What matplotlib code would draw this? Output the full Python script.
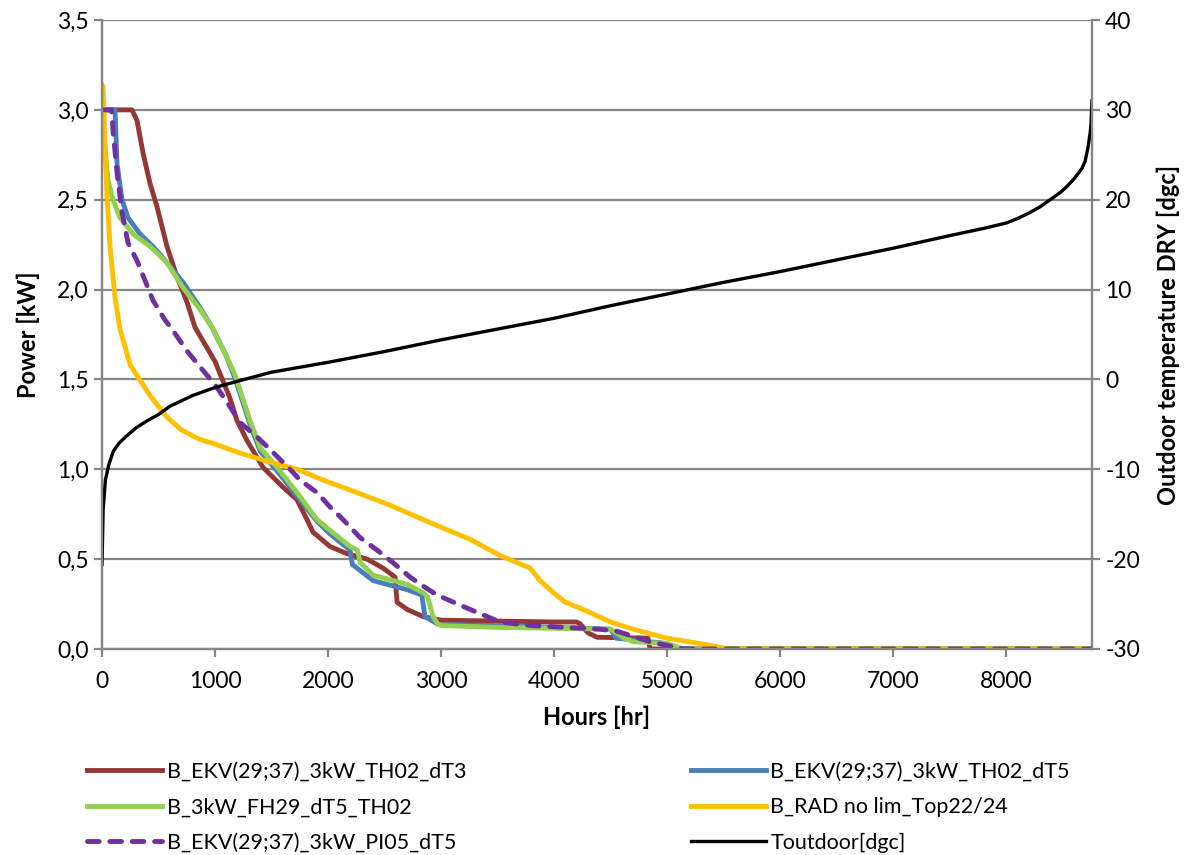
import numpy as np
import matplotlib
matplotlib.use("Agg")
import matplotlib.pyplot as plt
from matplotlib.ticker import FuncFormatter

plt.rcParams['font.family'] = ['Lato', 'DejaVu Sans']
plt.rcParams['axes.unicode_minus'] = False

# ---- data ----
red_h = [0, 265, 310, 363, 425, 487, 575, 664, 752, 823, 1000, 1130, 1195, 1283, 1425, 1602, 1726,
         1814, 1867, 2018, 2168, 2345, 2487, 2593, 2611, 2700, 2841, 3000, 3500, 4000, 4200, 4230,
         4300, 4380, 4830, 4850, 8760]
red_p = [3.0, 3.0, 2.94, 2.76, 2.59, 2.46, 2.24, 2.07, 1.93, 1.79, 1.60, 1.40, 1.27, 1.16, 1.01, 0.90, 0.83,
         0.72, 0.65, 0.57, 0.53, 0.50, 0.45, 0.40, 0.26, 0.22, 0.18, 0.16, 0.155, 0.15, 0.15, 0.14,
         0.09, 0.065, 0.06, 0.0, 0.0]

blue_h = [0, 115, 133, 177, 230, 336, 451, 575, 717, 867, 973, 1100, 1180, 1310, 1400, 1550, 1726,
          1903, 2018, 2195, 2215, 2400, 2700, 2830, 2858, 2965, 3000, 3500, 4000, 4500, 4550, 4700,
          5000, 5100, 8760]
blue_p = [3.0, 3.0, 2.70, 2.50, 2.40, 2.31, 2.24, 2.15, 2.04, 1.90, 1.79, 1.63, 1.50, 1.25, 1.10, 0.99, 0.85,
          0.71, 0.64, 0.55, 0.47, 0.38, 0.33, 0.30, 0.18, 0.14, 0.135, 0.13, 0.12, 0.11, 0.06, 0.05,
          0.03, 0.0, 0.0]

green_h = [0, 27, 53, 97, 159, 274, 425, 575, 717, 867, 973, 1100, 1180, 1310, 1400, 1550, 1726,
           1903, 2018, 2195, 2260, 2285, 2400, 2700, 2850, 2880, 2930, 2970, 3000, 3500, 4000, 4500,
           4620, 4700, 5000, 5150, 8760]
green_p = [3.0, 2.79, 2.61, 2.50, 2.40, 2.31, 2.24, 2.15, 2.01, 1.89, 1.79, 1.63, 1.52, 1.27, 1.12, 1.01, 0.87,
           0.72, 0.66, 0.57, 0.55, 0.48, 0.41, 0.36, 0.31, 0.29, 0.18, 0.14, 0.13, 0.12, 0.115, 0.11,
           0.06, 0.04, 0.03, 0.0, 0.0]

yellow_h = [0, 9, 27, 44, 71, 115, 159, 250, 425, 575, 700, 850, 1000, 1221, 1487, 1726, 1956, 2257, 2549,
            2841, 2991, 3257, 3522, 3788, 3876, 4000, 4100, 4257, 4500, 4700, 5000, 5292, 5500, 5600, 8760]
yellow_p = [3.14, 3.13, 2.79, 2.52, 2.24, 1.96, 1.78, 1.58, 1.41, 1.29, 1.22, 1.17, 1.14, 1.09, 1.04, 1.00,
            0.94, 0.87, 0.80, 0.72, 0.68, 0.61, 0.52, 0.45, 0.38, 0.31, 0.26, 0.22, 0.15, 0.11, 0.06,
            0.03, 0.005, 0.0, 0.0]

purple_h = [0, 85, 97, 133, 177, 230, 310, 381, 451, 558, 619, 750, 867, 1000, 1100, 1221, 1372, 1487,
            1664, 1752, 1903, 2018, 2133, 2283, 2434, 2575, 2726, 2841, 2965, 3257, 3522, 3800, 4100,
            4400, 4550, 4700, 4850, 5000, 5150, 8760]
purple_p = [3.0, 3.0, 2.89, 2.65, 2.43, 2.26, 2.16, 2.05, 1.94, 1.83, 1.78, 1.66, 1.57, 1.47, 1.38, 1.26,
            1.18, 1.11, 1.00, 0.94, 0.87, 0.79, 0.72, 0.62, 0.55, 0.48, 0.40, 0.35, 0.30, 0.22, 0.15,
            0.13, 0.12, 0.11, 0.10, 0.07, 0.04, 0.02, 0.0, 0.0]

tout_h = [0, 10, 30, 60, 100, 150, 200, 300, 400, 500, 600, 800, 1000, 1200, 1500, 2000, 2500, 3000,
          3500, 4000, 4500, 5000, 5500, 6000, 6500, 7000, 7500, 7800, 8000, 8100, 8200, 8300, 8390,
          8480, 8540, 8600, 8673, 8700, 8726, 8745, 8752, 8760]
tout_t = [-20.6, -14.5, -11.2, -9.5, -8.0, -7.1, -6.5, -5.4, -4.6, -3.9, -3.0, -1.8, -0.9, -0.2, 0.8,
          1.9, 3.1, 4.4, 5.6, 6.8, 8.2, 9.5, 10.8, 12.0, 13.3, 14.6, 16.0, 16.8, 17.4, 17.9, 18.5, 19.2,
          20.0, 20.8, 21.5, 22.3, 23.5, 24.3, 25.9, 27.5, 28.5, 31.0]

labels = ["B_EKV(29;37)_3kW_TH02_dT3", "B_EKV(29;37)_3kW_TH02_dT5", "B_3kW_FH29_dT5_TH02",
          "B_RAD no lim_Top22/24", "B_EKV(29;37)_3kW_PI05_dT5", "Toutdoor[dgc]"]

grey = '#868686'

fig = plt.figure(figsize=(11.93, 8.55), dpi=100)
ax = fig.add_subplot(111)
fig.subplots_adjust(left=0.0855, right=0.9153, top=0.9766, bottom=0.241)

lw = 3.5
l1, = ax.plot(red_h, red_p, color='#953735', lw=lw, label=labels[0])
l2, = ax.plot(blue_h, blue_p, color='#4A7EBB', lw=lw, label=labels[1])
l3, = ax.plot(green_h, green_p, color='#92D050', lw=lw, label=labels[2])
l4, = ax.plot(yellow_h, yellow_p, color='#FFC000', lw=lw, label=labels[3])
l5, = ax.plot(purple_h, purple_p, color='#7030A0', lw=lw, label=labels[4],
              dashes=(2.4, 2.2), dash_capstyle='round')

ax2 = ax.twinx()
l6, = ax2.plot(tout_h, tout_t, color='black', lw=2.4, label=labels[5])

ax.set_xlim(0, 8760)
ax.set_ylim(0, 3.5)
ax2.set_ylim(-30, 40)
ax.set_xticks(np.arange(0, 8001, 1000))
ax.set_yticks(np.arange(0, 3.51, 0.5))
ax2.set_yticks(np.arange(-30, 41, 10))
ax.yaxis.set_major_formatter(FuncFormatter(lambda v, p: f"{v:.1f}".replace('.', ',')))

ax.grid(axis='y', color=grey, lw=1.6)
ax.set_axisbelow(True)
for a in (ax, ax2):
    a.spines['top'].set_visible(False)
    for s in ('left', 'right', 'bottom'):
        a.spines[s].set_color(grey)
        a.spines[s].set_linewidth(1.6)
    a.tick_params(colors=grey, width=1.6, length=6, labelsize=16.5, labelcolor='black')
ax.tick_params(axis='x', pad=10)

ax.set_xlabel("Hours [hr]", fontsize=17, fontweight='bold', labelpad=10)
ax.set_ylabel("Power [kW]", fontsize=17, fontweight='bold', labelpad=12)
ax2.set_ylabel("Outdoor temperature DRY [dgc]", fontsize=17, fontweight='bold', labelpad=12)

leg_kw = dict(frameon=False, fontsize=15.5, handlelength=3.5, handletextpad=0.2,
              labelspacing=0.72, borderaxespad=0, borderpad=0)
leg1 = fig.legend([l1, l3, l5], [labels[0], labels[2], labels[4]], loc='upper left',
                  bbox_to_anchor=(0.073, 0.109), **leg_kw)
leg2 = fig.legend([l2, l4, l6], [labels[1], labels[3], labels[5]], loc='upper left',
                  bbox_to_anchor=(0.579, 0.109), **leg_kw)

fig.savefig("out.png", dpi=100)
